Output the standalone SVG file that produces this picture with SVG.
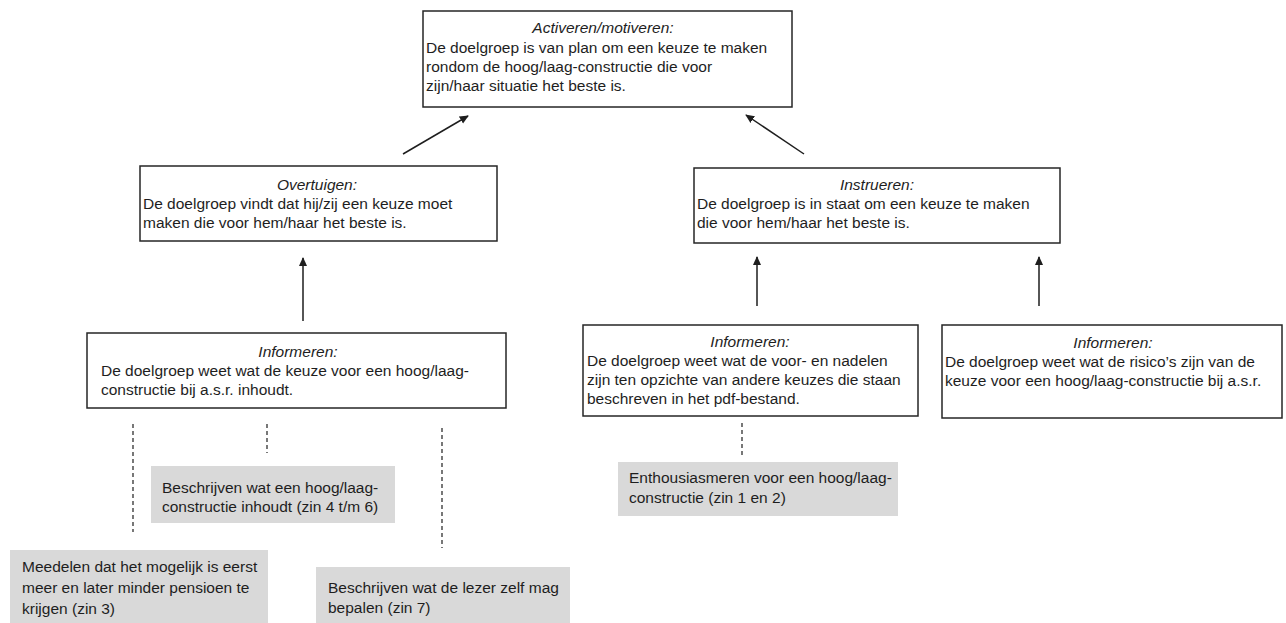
<svg xmlns="http://www.w3.org/2000/svg" width="1286" height="623" viewBox="0 0 1286 623">
<style>
.box{fill:#fff;stroke:#262626;stroke-width:1.5}
.gray{fill:#d9d9d9;stroke:none}
text{font-family:"Liberation Sans",Arial,sans-serif;font-size:15.5px;fill:#1e1e1e}
.t{font-style:italic;text-anchor:middle}
.arr{stroke:#1e1e1e;stroke-width:1.5;fill:none;marker-end:url(#ah)}
.dash{stroke:#1e1e1e;stroke-width:1.2;stroke-dasharray:4 3;fill:none}
</style>
<defs>
<marker id="ah" viewBox="0 0 10 10" refX="9" refY="5" markerWidth="9" markerHeight="9" markerUnits="userSpaceOnUse" orient="auto">
<path d="M0,0.5 L10,5 L0,9.5 z" fill="#1e1e1e"/>
</marker>
</defs>
<rect width="1286" height="623" fill="#fff"/>
<g id="connectors">
<line class="arr" x1="403" y1="154" x2="468" y2="116"/>
<line class="arr" x1="804" y1="154" x2="746" y2="115"/>
<line class="arr" x1="303" y1="321" x2="303" y2="258"/>
<line class="arr" x1="757" y1="306" x2="757" y2="257"/>
<line class="arr" x1="1039" y1="306" x2="1039" y2="257"/>
<line class="dash" x1="133" y1="424" x2="133" y2="532"/>
<line class="dash" x1="267" y1="424" x2="267" y2="453"/>
<line class="dash" x1="442" y1="428" x2="442" y2="548"/>
<line class="dash" x1="742" y1="423" x2="742" y2="455"/>
</g>
<g id="activeren">
<rect class="box" x="423" y="11" width="369" height="96"/>
<text class="t" x="603" y="33">Activeren/motiveren:</text>
<text x="426" y="53">De doelgroep is van plan om een keuze te maken</text>
<text x="426" y="72">rondom de hoog/laag-constructie die voor</text>
<text x="426" y="91">zijn/haar situatie het beste is.</text>
</g>
<g id="overtuigen">
<rect class="box" x="140" y="166" width="357" height="75"/>
<text class="t" x="317" y="190">Overtuigen:</text>
<text x="143" y="209">De doelgroep vindt dat hij/zij een keuze moet</text>
<text x="143" y="228">maken die voor hem/haar het beste is.</text>
</g>
<g id="instrueren">
<rect class="box" x="694" y="168" width="366" height="75"/>
<text class="t" x="877" y="190">Instrueren:</text>
<text x="697" y="209">De doelgroep is in staat om een keuze te maken</text>
<text x="697" y="228">die voor hem/haar het beste is.</text>
</g>
<g id="informeren1">
<rect class="box" x="87" y="333" width="419" height="75"/>
<text class="t" x="298" y="357">Informeren:</text>
<text x="101" y="376">De doelgroep weet wat de keuze voor een hoog/laag-</text>
<text x="101" y="395">constructie bij a.s.r. inhoudt.</text>
</g>
<g id="informeren2">
<rect class="box" x="583" y="325" width="335" height="91"/>
<text class="t" x="750" y="347">Informeren:</text>
<text x="587" y="366">De doelgroep weet wat de voor- en nadelen</text>
<text x="587" y="385">zijn ten opzichte van andere keuzes die staan</text>
<text x="587" y="404">beschreven in het pdf-bestand.</text>
</g>
<g id="informeren3">
<rect class="box" x="942" y="325" width="340" height="93"/>
<text class="t" x="1113" y="348">Informeren:</text>
<text x="945" y="367">De doelgroep weet wat de risico’s zijn van de</text>
<text x="945" y="386">keuze voor een hoog/laag-constructie bij a.s.r.</text>
</g>
<g id="beschrijven1">
<rect class="gray" x="151" y="466" width="244" height="57"/>
<text x="162" y="493">Beschrijven wat een hoog/laag-</text>
<text x="162" y="512">constructie inhoudt (zin 4 t/m 6)</text>
</g>
<g id="meedelen">
<rect class="gray" x="10" y="550" width="258" height="73"/>
<text x="22" y="572">Meedelen dat het mogelijk is eerst</text>
<text x="22" y="593">meer en later minder pensioen te</text>
<text x="22" y="614">krijgen (zin 3)</text>
</g>
<g id="beschrijven2">
<rect class="gray" x="316" y="567" width="254" height="56"/>
<text x="328" y="593">Beschrijven wat de lezer zelf mag</text>
<text x="328" y="613">bepalen (zin 7)</text>
</g>
<g id="enthousiasmeren">
<rect class="gray" x="618" y="462" width="280" height="54"/>
<text x="629" y="483">Enthousiasmeren voor een hoog/laag-</text>
<text x="629" y="503">constructie (zin 1 en 2)</text>
</g>
</svg>
